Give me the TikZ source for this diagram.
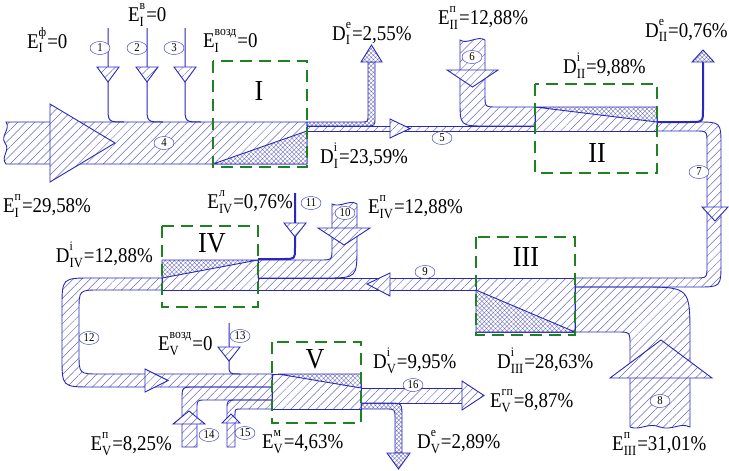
\documentclass[tikz,border=0pt]{standalone}
\usepackage{fontspec}
\setmainfont{Liberation Serif}[FakeStretch=0.9]
\usetikzlibrary{patterns.meta,shapes.geometric}
\definecolor{flow}{RGB}{40,40,190}
\definecolor{hatch}{RGB}{105,105,190}
\definecolor{boxgreen}{RGB}{30,130,30}
\newsavebox\supbox
\newsavebox\subbox
\newcommand{\lbl}[3]{#1\sbox\supbox{\fontsize{13}{13}\selectfont #2}\sbox\subbox{\fontsize{14}{14}\selectfont #3}%
  \dimen0=\wd\supbox\ifdim\wd\subbox>\dimen0 \dimen0=\wd\subbox\fi
  \makebox[\dimen0][l]{\rlap{\raisebox{11.5pt}{\usebox\supbox}}\raisebox{-5pt}{\usebox\subbox}}\kern1pt}
\tikzset{
  band/.style={draw=flow,line width=0.9pt,pattern={Lines[angle=45,distance=6pt,line width=0.5pt]},pattern color=hatch},
  xband/.style={draw=flow,line width=0.9pt,pattern={Hatch[angle=45,distance=3pt,line width=0.35pt]},pattern color=hatch},
  xtri/.style={draw=flow,line width=0.9pt,preaction={fill=white},pattern={Hatch[angle=45,distance=3.2pt,line width=0.35pt]},pattern color=hatch},
  ahead/.style={draw=flow,line width=0.9pt,preaction={fill=white},pattern={Lines[angle=45,distance=6pt,line width=0.5pt]},pattern color=hatch},
  xhead/.style={draw=flow,line width=0.9pt,preaction={fill=white},pattern={Hatch[angle=45,distance=3pt,line width=0.35pt]},pattern color=hatch},
  thinln/.style={draw=flow,line width=1pt},
  thickln/.style={draw=flow,line width=2pt},
  stagebox/.style={draw=boxgreen,line width=1.6pt,dash pattern=on 12pt off 7pt},
  num/.style={ellipse,draw=flow,fill=white,inner sep=0pt,minimum width=20pt,minimum height=13pt,font=\fontsize{12}{12}\selectfont},
  lab/.style={anchor=base west,inner sep=0pt,font=\fontsize{21}{24}\selectfont},
  roman/.style={inner sep=0pt,font=\fontsize{29}{30}\selectfont}
}
\begin{document}
\begin{tikzpicture}[x=1pt,y=-1pt]
\useasboundingbox (0,0) rectangle (729,471);
\draw[band] (6,122) -- (307,122) -- (307,164) -- (6,164) .. controls (0,157) and (11,150) .. (5,143) .. controls (0,136) and (11,129) .. (6,122) -- cycle;
\draw[xband] (307,122) -- (361,122) .. controls (368,122) .. (368,115) -- (368,62) -- (375,62) -- (375,117) .. controls (375,126) .. (366,126) -- (307,126) -- cycle;
\draw[band] (307,126) -- (535,126) -- (535,131) -- (307,131) -- cycle;
\draw[band] (460,40) -- (460,100) .. controls (460,126) .. (486,126) -- (535,126) -- (535,107) -- (497,107) .. controls (485,107) .. (485,95) -- (485,40) .. controls (478,35) and (467,45) .. (460,40) -- cycle;
\draw[band] (535,107) -- (657,107) -- (657,131) -- (535,131) -- cycle;
\draw[band] (657,122) -- (697,122) .. controls (721,122) .. (721,146) -- (721,263) .. controls (721,287) .. (697,287) -- (575,287) -- (575,278) -- (695,278) .. controls (707,278) .. (707,266) -- (707,143) .. controls (707,131) .. (695,131) -- (657,131) -- cycle;
\draw[band] (630,427) -- (630,345) .. controls (630,332) .. (617,332) -- (575,332) -- (575,287) -- (640,287) .. controls (690,287) .. (690,337) -- (690,427) .. controls (680,422) and (672,431) .. (660,427) .. controls (648,422) and (640,431) .. (630,427) -- cycle;
\draw[band] (476,278) -- (575,278) -- (575,332) -- (476,332) -- cycle;
\draw[band] (258,278) -- (476,278) -- (476,290) -- (258,290) -- cycle;
\draw[band] (332,204) -- (332,248) .. controls (332,260) .. (320,260) -- (258,260) -- (258,278) -- (325,278) .. controls (357,278) .. (357,246) -- (357,204) .. controls (350,199) and (340,208) .. (332,204) -- cycle;
\draw[band] (162,260) -- (258,260) -- (258,290) -- (162,290) -- cycle;
\draw[band] (162,278) -- (92,278) .. controls (62,278) .. (62,308) -- (62,357) .. controls (62,387) .. (92,387) -- (272,387) -- (272,374) -- (100,374) .. controls (79,374) .. (79,353) -- (79,311) .. controls (79,290) .. (100,290) -- (162,290) -- cycle;
\draw[band] (182,447) -- (182,400) .. controls (182,387) .. (195,387) -- (272,387) -- (272,400) -- (206,400) .. controls (197,400) .. (197,409) -- (197,447) -- cycle;
\draw[band] (227,447) -- (227,410) .. controls (227,400) .. (237,400) -- (272,400) -- (272,409) -- (241,409) .. controls (235,409) .. (235,415) -- (235,447) -- cycle;
\draw[band] (272,374) -- (361,374) -- (361,409) -- (272,409) -- cycle;
\draw[band] (361,388) -- (462,388) -- (462,403) -- (361,403) -- cycle;
\draw[xband] (361,403) -- (388,403) .. controls (402,403) .. (402,417) -- (402,453) -- (395,453) -- (395,418) .. controls (395,409) .. (386,409) -- (361,409) -- cycle;
\draw[thickln] (657,122) -- (690,122) .. controls (703,122) .. (703,109) -- (703,62);
\draw[thickln] (258,259) -- (284,259) .. controls (295,259) .. (295,248) -- (295,193);
\draw[thinln] (108,28) -- (108,106) .. controls (108,122) .. (124,122);
\draw[thinln] (147,28) -- (147,106) .. controls (147,122) .. (163,122);
\draw[thinln] (185,28) -- (185,106) .. controls (185,122) .. (201,122);
\draw[thinln] (229,323) -- (229,364) .. controls (229,374) .. (240,374);
\draw[xtri] (213,164) -- (307,131) -- (307,164) -- cycle;
\draw[xtri] (535,107) -- (657,107) -- (657,122) -- cycle;
\draw[xtri] (476,290) -- (575,332) -- (476,332) -- cycle;
\draw[xtri] (162,260) -- (258,260) -- (162,278) -- cycle;
\draw[xtri] (278,374) -- (361,374) -- (361,388) -- cycle;
\draw[ahead] (50,104) -- (115,143) -- (50,182) -- cycle;
\draw[ahead] (97,67) -- (119,67) -- (108,82) -- cycle;
\draw[ahead] (136,67) -- (158,67) -- (147,82) -- cycle;
\draw[ahead] (174,67) -- (196,67) -- (185,82) -- cycle;
\draw[ahead] (390,119) -- (410,128.5) -- (390,138) -- cycle;
\draw[ahead] (447,70) -- (498,70) -- (472.5,87) -- cycle;
\draw[ahead] (702,207) -- (728,207) -- (715,221) -- cycle;
\draw[ahead] (610,378) -- (661,340) -- (712,378) -- cycle;
\draw[ahead] (390,273) -- (367,284) -- (390,296) -- cycle;
\draw[ahead] (318,228) -- (370,228) -- (344,245) -- cycle;
\draw[ahead] (284,223) -- (306,223) -- (295,237) -- cycle;
\draw[ahead] (145,369) -- (168,380.5) -- (145,392) -- cycle;
\draw[ahead] (218,347) -- (240,347) -- (229,361) -- cycle;
\draw[ahead] (173,424) -- (189,411) -- (205,424) -- cycle;
\draw[ahead] (222,423) -- (231,414) -- (240,423) -- cycle;
\draw[ahead] (462,381) -- (484,395.5) -- (462,410) -- cycle;
\draw[xhead] (361,62) -- (371.5,45) -- (382,62) -- cycle;
\draw[xhead] (692,62) -- (703,50) -- (714,62) -- cycle;
\draw[xhead] (387,453) -- (398.5,469) -- (410,453) -- cycle;
\draw[stagebox] (213,61) rectangle (307,167);
\draw[stagebox] (535,84) rectangle (657,173);
\draw[stagebox] (476,237) rectangle (575,335);
\draw[stagebox] (162,226) rectangle (258,307);
\draw[stagebox] (272,342) rectangle (361,423);
\node[roman] (stI) at (259,91) {I};
\node[roman] (stII) at (597,153) {II};
\node[roman] (stIII) at (526,257) {III};
\node[roman] (stIV) at (212,243) {IV};
\node[roman] (stV) at (315,359) {V};
\node[num] (n1) at (100,48) {1};
\node[num] (n2) at (137,48) {2};
\node[num] (n3) at (174,48) {3};
\node[num] (n4) at (164,143) {4};
\node[num] (n5) at (442,138) {5};
\node[num] (n6) at (472,57) {6};
\node[num] (n7) at (699,172) {7};
\node[num] (n8) at (660,401) {8};
\node[num] (n9) at (425,272) {9};
\node[num] (n10) at (345,213) {10};
\node[num] (n11) at (311,203) {11};
\node[num] (n12) at (89,338) {12};
\node[num] (n13) at (240,336) {13};
\node[num] (n14) at (209,435) {14};
\node[num] (n15) at (245,433) {15};
\node[num] (n16) at (413,385) {16};
\node[lab] (eIf) at (27,48) {\lbl{E}{ф}{I}=0};
\node[lab] (eIv) at (128,21) {\lbl{E}{в}{I}=0};
\node[lab] (eIair) at (203,47) {\lbl{E}{возд}{I}=0};
\node[lab] (dIe) at (332,40) {\lbl{D}{e}{I}=2,55\%};
\node[lab] (dIi) at (320,163) {\lbl{D}{i}{I}=23,59\%};
\node[lab] (eIIp) at (438,24) {\lbl{E}{п}{II}=12,88\%};
\node[lab] (dIIi) at (563,73) {\lbl{D}{i}{II}=9,88\%};
\node[lab] (dIIe) at (645,37) {\lbl{D}{e}{II}=0,76\%};
\node[lab] (eIp) at (3,212) {\lbl{E}{п}{I}=29,58\%};
\node[lab,anchor=base east] (eIVl) at (293,208) {\lbl{E}{л}{IV}=0,76\%};
\node[lab] (eIVp) at (368,213) {\lbl{E}{п}{IV}=12,88\%};
\node[lab,anchor=base east] (dIVi) at (153,262) {\lbl{D}{i}{IV}=12,88\%};
\node[lab] (eVair) at (158,350) {\lbl{E}{возд}{V}=0};
\node[lab] (dVi) at (373,368) {\lbl{D}{i}{V}=9,95\%};
\node[lab] (dIIIi) at (497,368) {\lbl{D}{i}{III}=28,63\%};
\node[lab] (eVgp) at (490,407) {\lbl{E}{гп}{V}=8,87\%};
\node[lab,anchor=base east] (eVp) at (172,450) {\lbl{E}{п}{V}=8,25\%};
\node[lab] (eVm) at (262,448) {\lbl{E}{м}{V}=4,63\%};
\node[lab] (dVe) at (417,448) {\lbl{D}{e}{V}=2,89\%};
\node[lab] (eIIIp) at (612,450) {\lbl{E}{п}{III}=31,01\%};
\end{tikzpicture}
\end{document}
